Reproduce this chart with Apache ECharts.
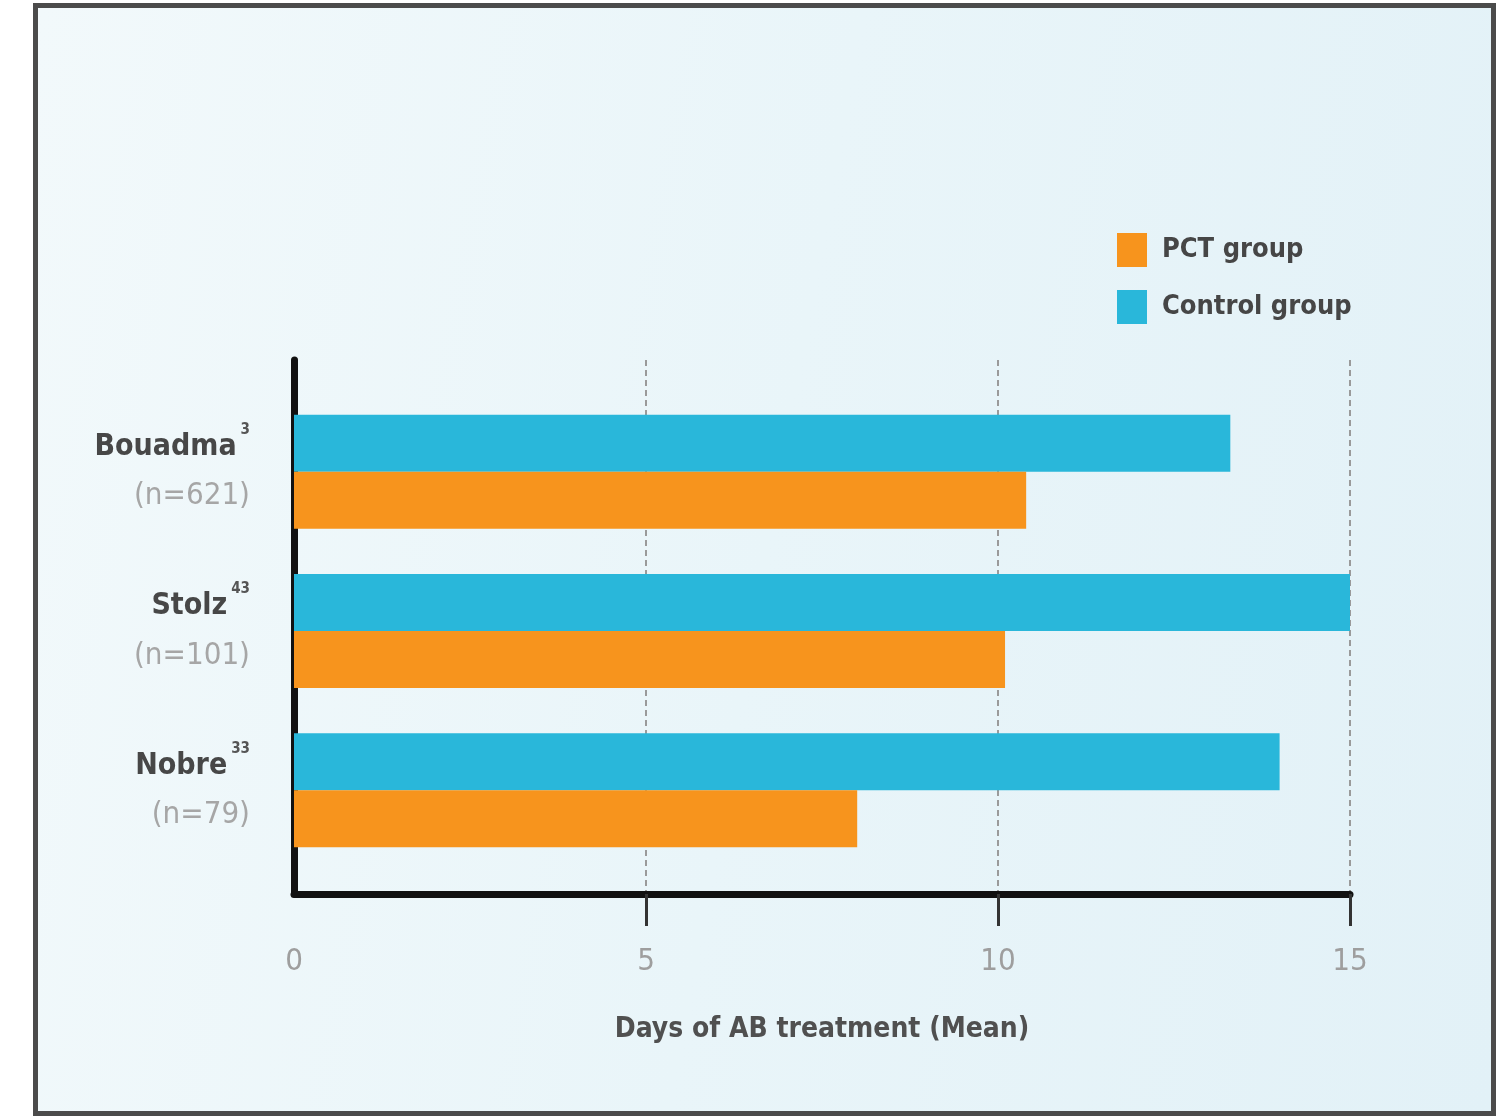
<!DOCTYPE html>
<html>
<head>
<meta charset="utf-8">
<script src="https://cdn.jsdelivr.net/npm/echarts@6/dist/echarts.min.js"></script>
<style>
  html, body { margin: 0; padding: 0; background: #ffffff; }
  #frame {
    position: absolute; left: 33px; top: 3px; width: 1463px; height: 1113px;
    box-sizing: border-box; border: 5px solid #4b4b4b;
    background: linear-gradient(100deg, #f2f9fb 0%, #e9f5f9 50%, #e2f1f7 100%);
  }
  #chart { position: absolute; left: 0; top: 0; width: 1502px; height: 1116px; }
</style>
</head>
<body>
<div id="frame"></div>
<div id="chart"></div>
<script>
// ---- data ----
var studies = ['Bouadma', 'Stolz', 'Nobre'];
var refs = ['3', '43', '33'];
var sampleSizes = ['621', '101', '79'];
var controlGroup = [13.3, 15.0, 14.0];
var pctGroup = [10.4, 10.1, 8.0];
var xTicks = [0, 5, 10, 15];

var FONT = "'Liberation Sans Narrow', 'DejaVu Sans Condensed', 'Roboto Condensed', Roboto, sans-serif";

var chart = echarts.init(document.getElementById('chart'), null, { renderer: 'canvas' });

var option = {
  backgroundColor: 'transparent',
  animation: false,
  legend: {
    orient: 'vertical',
    left: 1112,
    top: 228,
    itemWidth: 30,
    itemHeight: 34,
    itemGap: 23,
    icon: 'rect',
    data: ['PCT group', 'Control group'],
    textStyle: { fontFamily: FONT, fontSize: 27, fontWeight: 'bold', color: '#464646', padding: [0, 0, 0, 10] }
  },
  grid: [
    { left: 294, right: 152, top: 392, bottom: 246 },
    { left: 294, right: 152, top: 360, bottom: 222 }
  ],
  xAxis: [
    { gridIndex: 0, type: 'value', min: 0, max: 15, interval: 5, show: false },
    {
      gridIndex: 1, type: 'value', min: 0, max: 15, interval: 5,
      name: 'Days of AB treatment (Mean)',
      nameLocation: 'middle',
      nameGap: 122,
      nameTextStyle: { fontFamily: FONT, fontSize: 28, fontWeight: 'bold', color: '#505050' },
      axisLine: { show: true, lineStyle: { color: '#111111', width: 7 } },
      axisTick: { show: true, length: 32, customValues: [5, 10, 15], lineStyle: { color: '#333333', width: 3 } },
      axisLabel: { customValues: xTicks, margin: 52, fontFamily: FONT, fontSize: 31, color: '#9e9e9e' },
      splitLine: { show: true, lineStyle: { color: '#9a9a9a', width: 2, type: [6, 4] } }
    }
  ],
  yAxis: [
    {
      gridIndex: 0, type: 'category', inverse: true, data: studies,
      axisLine: { show: false }, axisTick: { show: false },
      axisLabel: {
        margin: 44,
        align: 'right',
        formatter: function (v, i) {
          return '{name|' + studies[i] + '}{sup|' + refs[i] + '}\n{n|(n=' + sampleSizes[i] + ')}';
        },
        rich: {
          name: { fontFamily: FONT, fontSize: 30, fontWeight: 'bold', color: '#474747', lineHeight: 49, padding: [0, 4, 0, 0] },
          sup: { fontFamily: FONT, fontSize: 15, fontWeight: 'bold', color: '#555555', lineHeight: 36, verticalAlign: 'top' },
          n: { fontFamily: FONT, fontSize: 31, color: '#a6a6a6', lineHeight: 49 }
        }
      }
    },
    {
      gridIndex: 1, type: 'value', min: 0, max: 1,
      axisLine: { show: true, lineStyle: { color: '#111111', width: 7 } },
      axisTick: { show: false }, axisLabel: { show: false }, splitLine: { show: false }
    }
  ],
  series: [
    {
      name: 'Control group', type: 'bar', xAxisIndex: 0, yAxisIndex: 0,
      data: controlGroup, barWidth: 57, barGap: '0%',
      itemStyle: { color: '#29b7da' }, z: 1
    },
    {
      name: 'PCT group', type: 'bar', xAxisIndex: 0, yAxisIndex: 0,
      data: pctGroup, barWidth: 57, barGap: '0%',
      itemStyle: { color: '#f7941d' }, z: 1
    }
  ]
};

chart.setOption(option);
</script>
</body>
</html>
